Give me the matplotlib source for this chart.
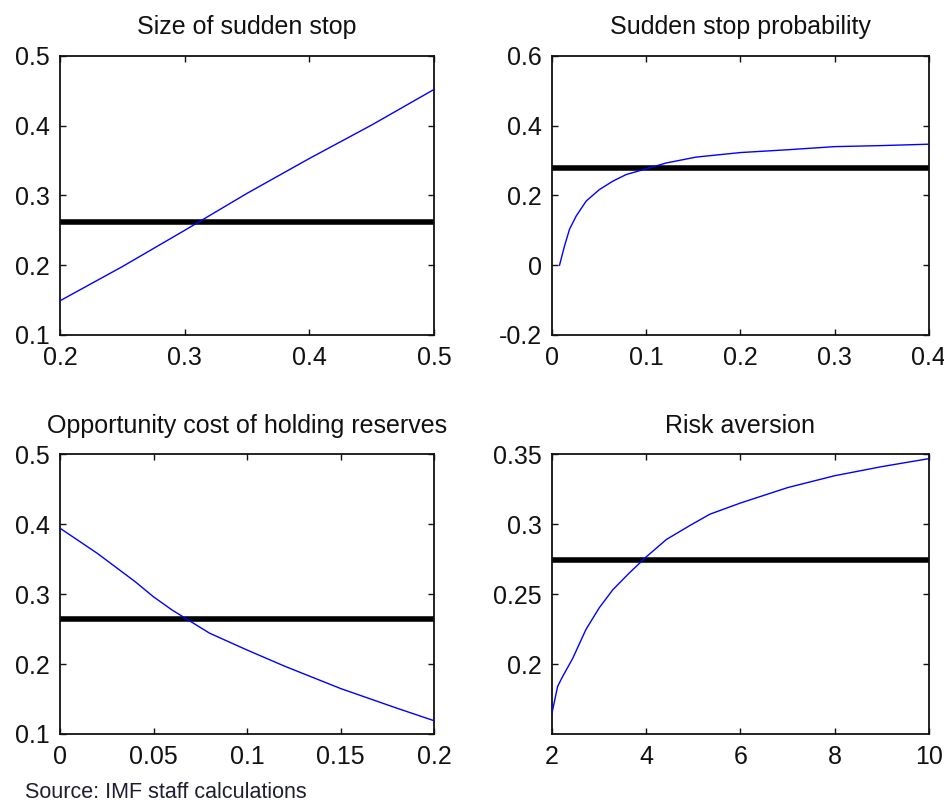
import matplotlib
matplotlib.use("Agg")
import matplotlib.pyplot as plt

plt.rcParams["font.family"] = ["Liberation Sans", "DejaVu Sans"]

# Size of sudden stop
size_x = [0.20, 0.25, 0.30, 0.35, 0.40, 0.45, 0.50]
size_y = [0.149, 0.198, 0.250, 0.303, 0.353, 0.401, 0.452]
size_base = 0.262

# Sudden stop probability
prob_x = [0.008, 0.0133, 0.0186, 0.0257, 0.0363, 0.0504, 0.0646, 0.0788, 0.093,
          0.121, 0.153, 0.20, 0.25, 0.30, 0.35, 0.40]
prob_y = [0.000, 0.055, 0.103, 0.141, 0.184, 0.217, 0.241, 0.260, 0.271,
          0.293, 0.310, 0.323, 0.331, 0.340, 0.343, 0.347]
prob_base = 0.280

# Opportunity cost of holding reserves
cost_x = [0.00, 0.02, 0.04, 0.05, 0.06, 0.08, 0.10, 0.12, 0.15, 0.18, 0.20]
cost_y = [0.394, 0.358, 0.318, 0.296, 0.277, 0.244, 0.220, 0.197, 0.165, 0.137, 0.119]
cost_base = 0.2645

# Risk aversion
risk_x = [2.0, 2.12, 2.225, 2.44, 2.72, 3.0, 3.29, 3.64, 4.0, 4.43, 4.92, 5.35,
          6.0, 7.0, 8.0, 9.0, 10.0]
risk_y = [0.165, 0.184, 0.191, 0.204, 0.2246, 0.240, 0.253, 0.265, 0.2765, 0.289,
          0.2988, 0.307, 0.315, 0.326, 0.3345, 0.341, 0.3467]
risk_base = 0.274

panels = [
    ("Size of sudden stop", size_x, size_y, size_base,
     (0.2, 0.5), [0.2, 0.3, 0.4, 0.5], ["0.2", "0.3", "0.4", "0.5"],
     (0.1, 0.5), [0.1, 0.2, 0.3, 0.4, 0.5], ["0.1", "0.2", "0.3", "0.4", "0.5"]),
    ("Sudden stop probability", prob_x, prob_y, prob_base,
     (0.0, 0.4), [0, 0.1, 0.2, 0.3, 0.4], ["0", "0.1", "0.2", "0.3", "0.4"],
     (-0.2, 0.6), [-0.2, 0, 0.2, 0.4, 0.6], ["-0.2", "0", "0.2", "0.4", "0.6"]),
    ("Opportunity cost of holding reserves", cost_x, cost_y, cost_base,
     (0.0, 0.2), [0, 0.05, 0.1, 0.15, 0.2], ["0", "0.05", "0.1", "0.15", "0.2"],
     (0.1, 0.5), [0.1, 0.2, 0.3, 0.4, 0.5], ["0.1", "0.2", "0.3", "0.4", "0.5"]),
    ("Risk aversion", risk_x, risk_y, risk_base,
     (2, 10), [2, 4, 6, 8, 10], ["2", "4", "6", "8", "10"],
     (0.15, 0.35), [0.2, 0.25, 0.3, 0.35], ["0.2", "0.25", "0.3", "0.35"]),
]

positions = [
    [0.0635, 0.5839, 0.3958, 0.3466],
    [0.5841, 0.5839, 0.3989, 0.3466],
    [0.0635, 0.0882, 0.3958, 0.3478],
    [0.5841, 0.0882, 0.3989, 0.3478],
]
title_pads = [16, 16, 15, 15]

fig = plt.figure(figsize=(9.45, 8.05), dpi=100)

for pos, tpad, (title, xs, ys, base, xlim, xt, xtl, ylim, yt, ytl) in zip(
        positions, title_pads, panels):
    ax = fig.add_axes(pos)
    ax.plot(xlim, [base, base], color="black", linewidth=4.0,
            solid_capstyle="butt", zorder=2)
    ax.plot(xs, ys, color="#0000ff", linewidth=1.0, zorder=3)
    ax.set_xlim(*xlim)
    ax.set_ylim(*ylim)
    ax.set_xticks(xt)
    ax.set_xticklabels(xtl)
    ax.set_yticks(yt)
    ax.set_yticklabels(ytl)
    ax.tick_params(direction="in", length=4, width=1.0, top=True, right=True,
                   labelsize=18, colors="#111111")
    ax.tick_params(axis="x", pad=8)
    ax.tick_params(axis="y", pad=7.5)
    for spine in ax.spines.values():
        spine.set_linewidth(1.3)
        spine.set_color("#111111")
    ax.set_title(title, fontsize=18, pad=tpad, color="#111111")

fig.text(0.026, 0.002, "Source: IMF staff calculations", fontsize=15.5,
         color="#1e1e30", ha="left", va="bottom")

fig.savefig("out.png", dpi=100)
